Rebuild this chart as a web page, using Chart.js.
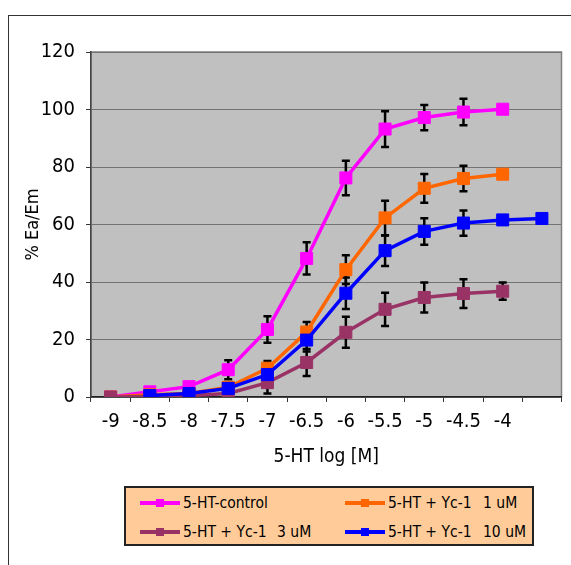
<!DOCTYPE html>
<html>
<head>
<meta charset="utf-8">
<script src="https://cdn.jsdelivr.net/npm/chart.js@4.4.0/dist/chart.umd.min.js"></script>
<style>
  body { margin: 0; background: #fff; }
  #wrap { position: relative; width: 571px; height: 565px; overflow: hidden;
    font-family: "DejaVu Sans Condensed", "DejaVu Sans", sans-serif; }
  #frame { position: absolute; left: 8px; top: 15px; width: 700px; height: 700px;
    border-left: 1.5px solid #333; border-top: 1.5px solid #333; }
  canvas { position: absolute; left: 0; top: 0; }
  #legend { position: absolute; left: 124px; top: 486px; width: 410px; height: 60px;
    box-sizing: border-box; background: #FFCC99; border: 2px solid #222; }
  .item { position: absolute; height: 24px; display: flex; align-items: center;
    font-size: 15.5px; color: #000; white-space: pre; }
  .dose { position: absolute; top: 0; height: 24px; line-height: 24px; font-size: 15.5px; }
  .swatch { position: relative; width: 40px; height: 3.5px; margin-right: 3px; }
  .swatch i { position: absolute; left: 16px; top: -2.5px; width: 8px; height: 8px; }
</style>
</head>
<body>
<div id="wrap">
  <div id="frame"></div>
  <canvas id="myChart" width="571" height="565"></canvas>
  <div id="legend"></div>
</div>
<script>
// x categories (12th slot has no label, only the 10 uM curve reaches it)
const xLabels = ["-9", "-8.5", "-8", "-7.5", "-7", "-6.5", "-6", "-5.5", "-5", "-4.5", "-4", ""];

const seriesNames = ["5-HT-control", "5-HT + Yc-1    1 uM", "5-HT + Yc-1   3 uM", "5-HT + Yc-1    10 uM"];
const seriesColors = ["#FF00FF", "#FF6600", "#993366", "#0000FF"];

// % Ea/Em
const control = [0, 1.8, 3.6, 9.5, 23.5, 48.2, 76.2, 93.2, 97.2, 99.1, 100.1];
const yc1uM = [0, 0.8, 1.2, 3.4, 10, 22.6, 44.3, 62.3, 72.6, 76, 77.5];
const yc3uM = [0, 0.2, 0.5, 1.2, 5, 12, 22.5, 30.5, 34.6, 36, 36.8];
const yc10uM = [null, 0.5, 1.2, 3, 7.8, 19.8, 36.1, 50.9, 57.6, 60.5, 61.6, 62.1];

// +/- error (SEM)
const controlErr = [0, 0, 0, 3.3, 4.6, 5.6, 6, 6.2, 4.4, 4.6, 0];
const yc1uMErr = [0, 0, 0, 0, 2.5, 3.5, 5, 6, 5, 4.4, 0];
const yc3uMErr = [0, 0, 0, 0, 3.8, 4.7, 5.4, 5.8, 5.2, 5, 3];
const yc10uMErr = [0, 0, 0, 0, 0, 4, 5.5, 5.3, 4.6, 4.4, 0, 0];

const yTicks = [0, 20, 40, 60, 80, 100, 120];

const allData = [control, yc1uM, yc3uM, yc10uM];
const allErr = [controlErr, yc1uMErr, yc3uMErr, yc10uMErr];

const plotBackground = {
  id: "plotBackground",
  beforeDraw(chart) {
    const { ctx, chartArea: a } = chart;
    ctx.save();
    ctx.fillStyle = "#C0C0C0";
    ctx.fillRect(a.left, a.top, a.right - a.left, a.bottom - a.top);
    ctx.strokeStyle = "#808080";
    ctx.lineWidth = 1.5;
    ctx.strokeRect(a.left, a.top, a.right - a.left, a.bottom - a.top);
    ctx.restore();
  }
};

const errorBars = {
  id: "errorBars",
  beforeDatasetsDraw(chart) {
    const { ctx, scales: { x, y } } = chart;
    ctx.save();
    ctx.strokeStyle = "#000";
    ctx.lineWidth = 2.5;
    allData.forEach((values, i) => {
      values.forEach((v, j) => {
        const e = allErr[i][j];
        if (v == null || !e) return;
        const px = x.getPixelForValue(j);
        const top = y.getPixelForValue(v + e);
        const bot = y.getPixelForValue(v - e);
        ctx.beginPath();
        ctx.moveTo(px, top);
        ctx.lineTo(px, bot);
        ctx.moveTo(px - 4, top);
        ctx.lineTo(px + 4, top);
        ctx.moveTo(px - 4, bot);
        ctx.lineTo(px + 4, bot);
        ctx.stroke();
      });
    });
    ctx.restore();
  }
};

const datasets = allData.map((values, i) => ({
  label: seriesNames[i],
  data: values,
  borderColor: seriesColors[i],
  backgroundColor: seriesColors[i],
  pointBackgroundColor: seriesColors[i],
  pointBorderColor: seriesColors[i],
  borderWidth: 3.5,
  pointStyle: "rect",
  pointRadius: 8.5,
  pointHoverRadius: 8.5,
  pointBorderWidth: 1,
  tension: 0,
  order: 4 - i
}));

const fam = "'DejaVu Sans Condensed', 'DejaVu Sans', sans-serif";
const tickFont = { family: fam, size: 20 };

new Chart(document.getElementById("myChart"), {
  type: "line",
  data: { labels: xLabels, datasets },
  options: {
    responsive: false,
    animation: false,
    devicePixelRatio: 1,
    layout: { padding: { left: 0, right: 4, top: 52, bottom: 93 } },
    plugins: { legend: { display: false }, tooltip: { enabled: false } },
    scales: {
      x: {
        offset: true,
        afterFit(scale) { scale.height = 75; },
        grid: { offset: true, drawOnChartArea: false, drawTicks: true, tickLength: 5, tickColor: "#333" },
        border: { color: "#222", width: 1.5 },
        ticks: { font: tickFont, color: "#000", padding: 8, maxRotation: 0, autoSkip: false },
        title: { display: true, text: "5-HT log [M]", font: { family: fam, size: 19 }, color: "#000", padding: { top: 0, bottom: 4 } }
      },
      y: {
        min: 0,
        max: 120,
        afterFit(scale) { scale.width = 91; },
        afterBuildTicks(scale) { scale.ticks = yTicks.map(v => ({ value: v })); },
        grid: { color: "#737373", lineWidth: 1, tickLength: 5, tickColor: "#333" },
        border: { color: "#444", width: 1.5 },
        ticks: { font: tickFont, color: "#000", padding: 11 },
        title: { display: true, text: "% Ea/Em", font: { family: fam, size: 18 }, color: "#000", padding: { top: 23, bottom: 0 } }
      }
    }
  },
  plugins: [plotBackground, errorBars]
});

// legend box, two columns, built from the series lists
const legend = document.getElementById("legend");
const colX = [14, 219];
const rowY = [3, 32];
const doseX = [151, 357];
seriesNames.forEach((name, i) => {
  const col = i % 2;
  const top = rowY[Math.floor(i / 2)];
  const parts = name.split(/\s{2,}/);
  const item = document.createElement("div");
  item.className = "item";
  item.style.left = colX[col] + "px";
  item.style.top = top + "px";
  const sw = document.createElement("span");
  sw.className = "swatch";
  sw.style.background = seriesColors[i];
  const mk = document.createElement("i");
  mk.style.background = seriesColors[i];
  sw.appendChild(mk);
  item.appendChild(sw);
  item.appendChild(document.createTextNode(parts[0]));
  legend.appendChild(item);
  if (parts[1]) {
    const d = document.createElement("span");
    d.className = "dose";
    d.style.left = doseX[col] + "px";
    d.style.top = top + "px";
    d.textContent = parts[1];
    legend.appendChild(d);
  }
});
</script>
</body>
</html>
